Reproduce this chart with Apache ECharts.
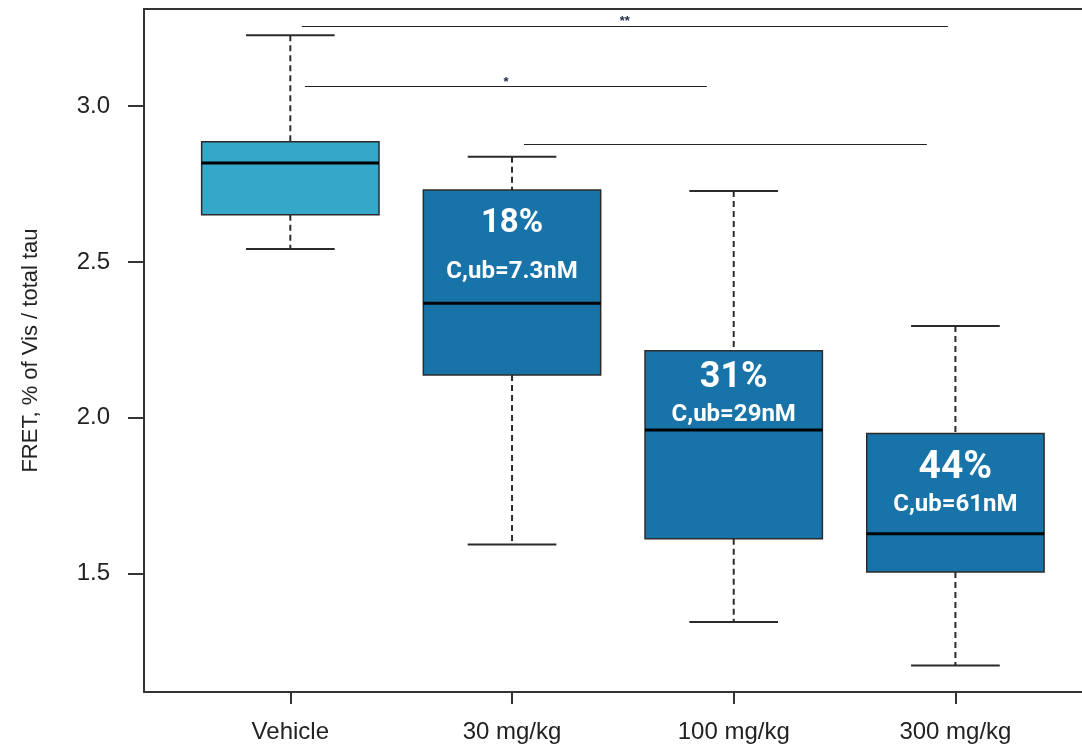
<!DOCTYPE html>
<html>
<head>
<meta charset="utf-8">
<title>FRET box plot</title>
<script src="https://cdn.jsdelivr.net/npm/echarts@6/dist/echarts.min.js"></script>
<style>
  html, body { margin: 0; padding: 0; background: #ffffff; }
  #chart { width: 1082px; height: 748px; }
</style>
</head>
<body>
<div id="chart"></div>
<script>
// Treatment groups, placed at x = 1..4
const categories = ['Vehicle', '30 mg/kg', '100 mg/kg', '300 mg/kg'];

// Box-and-whisker statistics per group
const whiskerLow  = [2.542, 1.593, 1.345, 1.205];
const quartile1   = [2.652, 2.137, 1.612, 1.505];
const medians     = [2.818, 2.368, 1.961, 1.628];
const quartile3   = [2.886, 2.731, 2.215, 1.950];
const whiskerHigh = [3.228, 2.838, 2.728, 2.295];

// Text printed inside the treated boxes
const reductionLabels = ['', '18%', '31%', '44%'];
const exposureLabels  = ['', 'C,ub=7.3nM', 'C,ub=29nM', 'C,ub=61nM'];

// Y-axis tick values
const yTicks = [1.5, 2.0, 2.5, 3.0];

// Significance brackets: start x, end x, height, mark
const bracketFrom = [1.052, 1.066, 2.054];
const bracketTo   = [3.966, 2.879, 3.871];
const bracketY    = [3.257, 3.063, 2.878];
const bracketMark = ['**', '*', ''];

const boxData = categories.map((_, i) => [
  i + 1, whiskerLow[i], quartile1[i], medians[i], quartile3[i], whiskerHigh[i]
]);

const boxFill = ['#35a8ca', '#1874a8', '#1874a8', '#1874a8'];
const inkColor = '#2b2b2b';
// Offsets (px below the box top) and sizes of the in-box text
const textLayout = [
  null,
  { pctDy: 34, pctSize: 33, concDy: 82 },
  { pctDy: 27, pctSize: 36, concDy: 64 },
  { pctDy: 35, pctSize: 39, concDy: 72 }
];

function renderBox(params, api) {
  const i = params.dataIndex;
  const x = api.value(0);
  const pLow  = api.coord([x, api.value(1)]);
  const pQ1   = api.coord([x, api.value(2)]);
  const pMed  = api.coord([x, api.value(3)]);
  const pQ3   = api.coord([x, api.value(4)]);
  const pHigh = api.coord([x, api.value(5)]);
  const unit = api.size([1, 0])[0];
  const halfBox = unit * 0.4;
  const halfCap = unit * 0.2;
  const cx = pMed[0];

  const children = [
    { type: 'line', shape: { x1: cx, y1: pHigh[1], x2: cx, y2: pQ3[1] },
      style: { stroke: inkColor, lineWidth: 2, lineDash: [6, 4] } },
    { type: 'line', shape: { x1: cx, y1: pQ1[1], x2: cx, y2: pLow[1] },
      style: { stroke: inkColor, lineWidth: 2, lineDash: [6, 4] } },
    { type: 'line', shape: { x1: cx - halfCap, y1: pHigh[1], x2: cx + halfCap, y2: pHigh[1] },
      style: { stroke: inkColor, lineWidth: 2 } },
    { type: 'line', shape: { x1: cx - halfCap, y1: pLow[1], x2: cx + halfCap, y2: pLow[1] },
      style: { stroke: inkColor, lineWidth: 2 } },
    { type: 'rect',
      shape: { x: cx - halfBox, y: pQ3[1], width: halfBox * 2, height: pQ1[1] - pQ3[1] },
      style: { fill: boxFill[i], stroke: inkColor, lineWidth: 1.5 } },
    { type: 'line', shape: { x1: cx - halfBox, y1: pMed[1], x2: cx + halfBox, y2: pMed[1] },
      style: { stroke: '#000000', lineWidth: 3 } }
  ];

  const t = textLayout[i];
  if (t) {
    children.push({
      type: 'text',
      style: {
        text: reductionLabels[i], x: cx, y: pQ3[1] + t.pctDy,
        fill: '#ffffff', fontFamily: 'Roboto', fontWeight: 'bold', fontSize: t.pctSize,
        align: 'center', verticalAlign: 'middle'
      }
    });
    children.push({
      type: 'text',
      style: {
        text: exposureLabels[i], x: cx, y: pQ3[1] + t.concDy,
        fill: '#ffffff', fontFamily: 'Roboto', fontWeight: 'bold', fontSize: 24,
        align: 'center', verticalAlign: 'middle'
      }
    });
  }
  return { type: 'group', children };
}

const bracketLines = bracketY.map((y, i) => [
  {
    coord: [bracketFrom[i], y],
    label: bracketMark[i]
      ? { show: true, formatter: bracketMark[i] }
      : { show: false }
  },
  { coord: [bracketTo[i], y] }
]);

const axisFont = 'Liberation Sans';
const frameLine = { show: true, onZero: false, lineStyle: { color: '#333333', width: 2 } };
const xMin = 0.34, xMax = 4.571;

const chart = echarts.init(document.getElementById('chart'), null, { renderer: 'canvas' });

chart.setOption({
  backgroundColor: '#ffffff',
  animation: false,
  grid: { left: 144, top: 9, right: 0, height: 683 },
  xAxis: [
    {
      type: 'value',
      min: xMin, max: xMax,
      axisLine: frameLine,
      splitLine: { show: false },
      axisTick: {
        show: true, customValues: [1, 2, 3, 4], length: 12,
        lineStyle: { color: '#333333', width: 2 }
      },
      axisLabel: {
        customValues: [1, 2, 3, 4],
        formatter: v => categories[Math.round(v) - 1] || '',
        margin: 28, fontSize: 24, fontFamily: axisFont, color: '#222222'
      }
    },
    {
      // top edge of the plot frame
      type: 'value',
      position: 'top',
      min: xMin, max: xMax,
      axisLine: frameLine,
      axisTick: { show: false },
      axisLabel: { show: false },
      splitLine: { show: false }
    }
  ],
  yAxis: {
    type: 'value',
    min: 1.12, max: 3.312,
    name: 'FRET, % of Vis / total tau',
    nameLocation: 'middle',
    nameGap: 102,
    nameTextStyle: { fontSize: 22, fontFamily: axisFont, color: '#222222' },
    axisLine: frameLine,
    splitLine: { show: false },
    axisTick: {
      show: true, customValues: yTicks, length: 16,
      lineStyle: { color: '#333333', width: 2 }
    },
    axisLabel: {
      customValues: yTicks,
      formatter: v => v.toFixed(1),
      margin: 34, fontSize: 24, fontFamily: axisFont, color: '#222222'
    }
  },
  series: [
    {
      type: 'custom',
      name: 'FRET',
      xAxisIndex: 0,
      renderItem: renderBox,
      encode: { x: 0, y: [1, 2, 3, 4, 5] },
      data: boxData,
      z: 2
    },
    {
      type: 'line',
      name: 'significance',
      xAxisIndex: 0,
      data: [],
      markLine: {
        silent: true,
        symbol: ['none', 'none'],
        lineStyle: { color: '#222222', width: 1, type: 'solid' },
        label: {
          position: 'middle', distance: -2,
          fontSize: 13, fontWeight: 'bold', fontFamily: axisFont, color: '#1c2a48'
        },
        emphasis: { disabled: true },
        data: bracketLines
      }
    }
  ]
});
</script>
</body>
</html>
